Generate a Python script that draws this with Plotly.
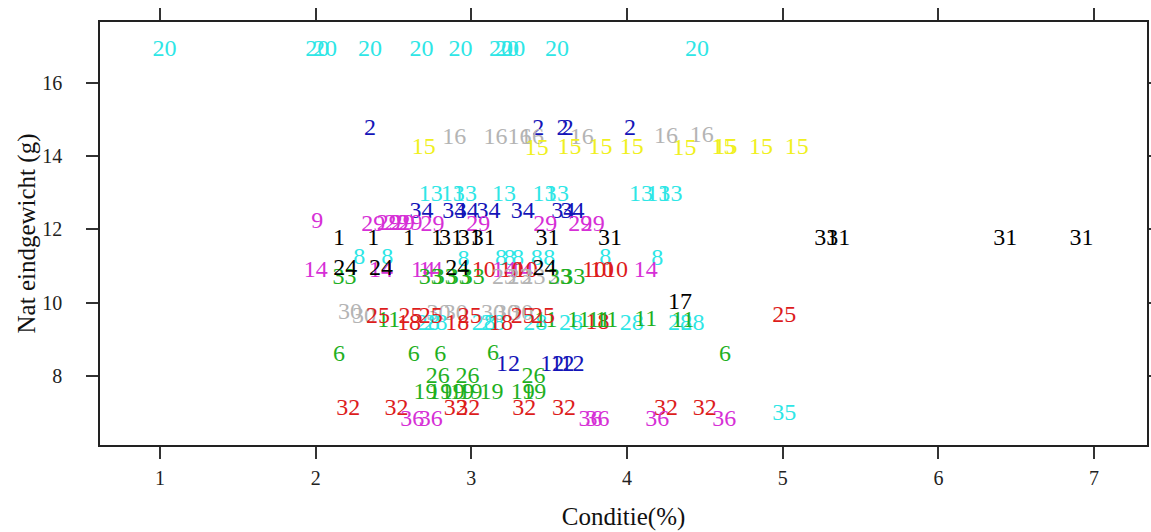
import plotly.graph_objects as go

# ---- data: Conditie (%) and Nat eindgewicht (g) per group label ----
g20_x = [1.03, 2.01, 2.06, 2.35, 2.68, 2.93, 3.19, 3.23, 3.27, 3.55, 4.45]
g20_y = [16.9, 16.9, 16.9, 16.9, 16.9, 16.9, 16.9, 16.9, 16.9, 16.9, 16.9]
g2_x = [2.35, 3.43, 3.585, 3.62, 4.02]
g2_y = [14.75, 14.75, 14.75, 14.75, 14.75]
g16_x = [2.89, 3.155, 3.31, 3.39, 3.71, 4.25, 4.48]
g16_y = [14.5, 14.5, 14.5, 14.5, 14.5, 14.52, 14.55]
g15_x = [2.695, 3.42, 3.63, 3.83, 4.03, 4.37, 4.62, 4.632, 4.86, 5.09]
g15_y = [14.22, 14.2, 14.22, 14.22, 14.22, 14.2, 14.22, 14.22, 14.22, 14.22]
g13_x = [2.74, 2.88, 2.96, 3.21, 3.47, 3.55, 4.09, 4.20, 4.28]
g13_y = [12.95, 12.95, 12.95, 12.95, 12.95, 12.95, 12.95, 12.95, 12.95]
g34_x = [2.68, 2.89, 2.97, 3.11, 3.33, 3.59, 3.65]
g34_y = [12.47, 12.47, 12.47, 12.47, 12.47, 12.47, 12.47]
g9_x = [2.01]
g9_y = [12.2]
g29_x = [2.37, 2.47, 2.52, 2.56, 2.61, 2.75, 3.045, 3.475, 3.70, 3.78]
g29_y = [12.13, 12.15, 12.15, 12.15, 12.15, 12.13, 12.13, 12.13, 12.13, 12.13]
g1_x = [2.15, 2.37, 2.60, 2.78]
g1_y = [11.75, 11.75, 11.75, 11.75]
g31_x = [2.87, 2.99, 3.08, 3.49, 3.89, 5.28, 5.357, 6.43, 6.92]
g31_y = [11.75, 11.75, 11.75, 11.75, 11.75, 11.75, 11.75, 11.75, 11.75]
g8_x = [2.28, 2.46, 2.95, 3.19, 3.245, 3.30, 3.42, 3.50, 3.86, 4.195]
g8_y = [11.22, 11.22, 11.17, 11.2, 11.2, 11.2, 11.2, 11.2, 11.22, 11.2]
g24_x = [2.19, 2.42, 2.91, 3.47]
g24_y = [10.92, 10.92, 10.92, 10.92]
g14_x = [2.0, 2.42, 2.69, 2.74, 3.21, 3.32, 4.12]
g14_y = [10.87, 10.87, 10.87, 10.87, 10.87, 10.87, 10.87]
g10_x = [3.08, 3.26, 3.35, 3.79, 3.84, 3.93]
g10_y = [10.87, 10.87, 10.87, 10.87, 10.87, 10.87]
g33_x = [2.185, 2.74, 2.83, 2.92, 3.01, 3.57, 3.655]
g33_y = [10.67, 10.67, 10.67, 10.67, 10.67, 10.67, 10.67]
g23_x = [3.21, 3.31, 3.40, 3.57]
g23_y = [10.68, 10.68, 10.68, 10.68]
g17_x = [4.34]
g17_y = [10.0]
g30_x = [2.22, 2.31, 2.79, 2.90, 3.14, 3.23, 3.32]
g30_y = [9.72, 9.6, 9.7, 9.7, 9.7, 9.7, 9.7]
g25_x = [2.40, 2.61, 2.74, 2.99, 3.33, 3.46, 5.01]
g25_y = [9.62, 9.62, 9.62, 9.62, 9.62, 9.62, 9.64]
g11_x = [2.47, 3.48, 3.69, 3.82, 3.87, 4.12, 4.36]
g11_y = [9.5, 9.5, 9.5, 9.5, 9.5, 9.52, 9.5]
g18_x = [2.60, 2.91, 3.19, 3.81]
g18_y = [9.42, 9.42, 9.42, 9.45]
g28_x = [2.72, 2.77, 3.08, 3.14, 3.41, 3.64, 4.03, 4.34, 4.42]
g28_y = [9.42, 9.42, 9.42, 9.42, 9.42, 9.42, 9.42, 9.42, 9.42]
g6_x = [2.15, 2.63, 2.80, 3.14, 4.63]
g6_y = [8.57, 8.57, 8.57, 8.59, 8.57]
g12_x = [3.235, 3.52, 3.585, 3.65]
g12_y = [8.3, 8.3, 8.3, 8.3]
g26_x = [2.785, 2.975, 3.40]
g26_y = [7.97, 7.97, 7.97]
g19_x = [2.705, 2.80, 2.88, 2.94, 2.995, 3.13, 3.33, 3.405]
g19_y = [7.53, 7.53, 7.53, 7.53, 7.53, 7.53, 7.53, 7.53]
g32_x = [2.21, 2.52, 2.90, 2.98, 3.34, 3.595, 4.25, 4.50]
g32_y = [7.1, 7.1, 7.1, 7.1, 7.1, 7.1, 7.1, 7.1]
g36_x = [2.62, 2.74, 3.765, 3.81, 4.195, 4.625]
g36_y = [6.78, 6.78, 6.78, 6.78, 6.78, 6.78]
g35_x = [5.01]
g35_y = [6.96]

x_ticks = [1, 2, 3, 4, 5, 6, 7]
y_ticks = [8, 10, 12, 14, 16]

# ---- colours (R default palette cycle) ----
BLACK, RED, GREEN, BLUE = "#000000", "#DD1C1C", "#1FB01F", "#1414B8"
CYAN, MAGENTA, YELLOW, GRAY = "#2EE6E6", "#D62FD6", "#F0F020", "#B4B4B4"

groups = [
    ("20", g20_x, g20_y, CYAN), ("2", g2_x, g2_y, BLUE), ("16", g16_x, g16_y, GRAY),
    ("15", g15_x, g15_y, YELLOW), ("13", g13_x, g13_y, CYAN), ("34", g34_x, g34_y, BLUE),
    ("9", g9_x, g9_y, MAGENTA), ("29", g29_x, g29_y, MAGENTA), ("1", g1_x, g1_y, BLACK),
    ("31", g31_x, g31_y, BLACK), ("8", g8_x, g8_y, CYAN), ("14", g14_x, g14_y, MAGENTA),
    ("10", g10_x, g10_y, RED), ("23", g23_x, g23_y, GRAY), ("33", g33_x, g33_y, GREEN),
    ("24", g24_x, g24_y, BLACK), ("17", g17_x, g17_y, BLACK), ("30", g30_x, g30_y, GRAY),
    ("28", g28_x, g28_y, CYAN), ("18", g18_x, g18_y, RED), ("11", g11_x, g11_y, GREEN),
    ("25", g25_x, g25_y, RED), ("6", g6_x, g6_y, GREEN), ("12", g12_x, g12_y, BLUE),
    ("26", g26_x, g26_y, GREEN), ("19", g19_x, g19_y, GREEN), ("32", g32_x, g32_y, RED),
    ("36", g36_x, g36_y, MAGENTA), ("35", g35_x, g35_y, CYAN),
]

FONT = "Liberation Serif, Times New Roman, serif"

fig = go.Figure()
for lab, xs, ys, col in groups:
    fig.add_trace(go.Scatter(
        x=xs, y=ys, mode="text", text=[lab] * len(xs),
        textposition="middle center",
        textfont=dict(family=FONT, size=24, color=col),
        showlegend=False, hoverinfo="x+y+text",
    ))

axis_common = dict(
    showline=True, linecolor="#222222", linewidth=1.5, mirror="ticks",
    ticks="outside", ticklen=12, tickwidth=1.5, tickcolor="#333333",
    showgrid=False, zeroline=False,
    tickfont=dict(family=FONT, size=20, color="#222222"),
)

fig.update_layout(
    width=1151, height=532,
    margin=dict(l=100, r=4, t=22, b=87, autoexpand=False),
    paper_bgcolor="white", plot_bgcolor="white",
    xaxis=dict(range=[0.615, 7.34], tickvals=x_ticks, ticktext=[str(v) for v in x_ticks],
               title=dict(text="Conditie(%)", standoff=20,
                          font=dict(family=FONT, size=25, color="#111111")),
               ticklabelstandoff=2, automargin=False, **axis_common),
    yaxis=dict(range=[6.11, 17.67], tickvals=y_ticks, ticktext=[str(v) for v in y_ticks],
               title=dict(text="Nat eindgewicht (g)", standoff=0,
                          font=dict(family=FONT, size=25, color="#111111")),
               ticklabelstandoff=20, automargin=False, **axis_common),
)

fig.write_html("out.html", config={"displayModeBar": False},
               post_script="document.body.style.margin='0';")
